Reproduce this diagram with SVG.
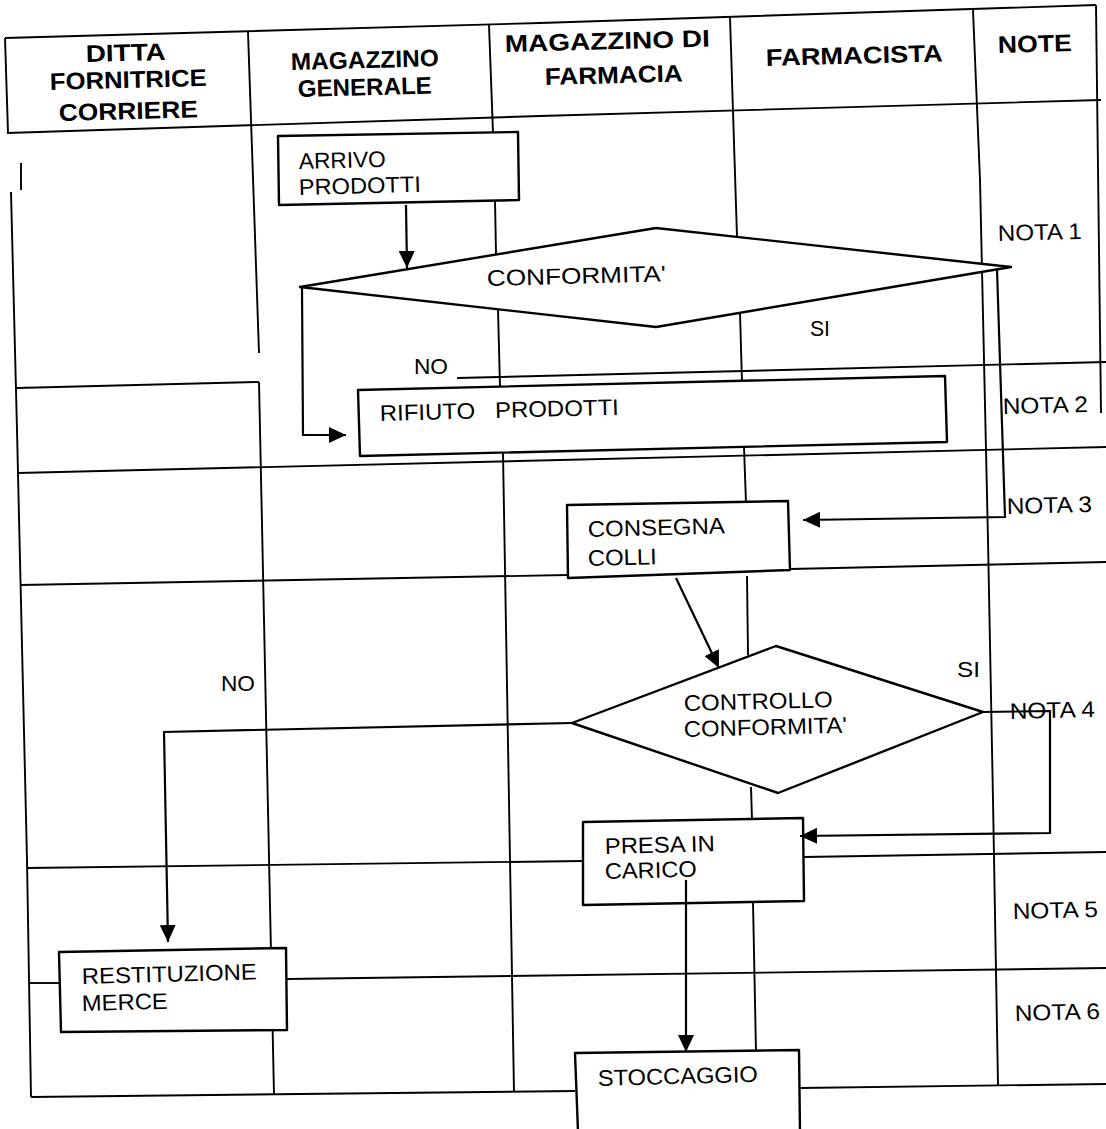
<svg xmlns="http://www.w3.org/2000/svg" width="1106" height="1129" viewBox="0 0 1106 1129">
<style>
.g{fill:none;stroke:#000;stroke-width:1.9;stroke-linejoin:round}
.b{fill:#fff;stroke:#000;stroke-width:2.4;stroke-linejoin:round}
.c{fill:none;stroke:#000;stroke-width:2.2}
.h{font-family:"Liberation Sans",Arial,sans-serif;font-weight:bold;font-size:24px;fill:#000}
.t{font-family:"Liberation Sans",Arial,sans-serif;font-size:22.5px;fill:#000}
</style>
<defs>
<marker id="ah" markerUnits="userSpaceOnUse" markerWidth="18" markerHeight="16" refX="17" refY="8" orient="auto">
<path d="M0,0 L17,8 L0,16 z" fill="#000"/>
</marker>
</defs>
<rect width="1106" height="1129" fill="#fff"/>
<g id="grid">
<polyline class="g" points="5,38 540,23 1096,5"/>
<polyline class="g" points="7,133 540,116 1101,100"/>
<line class="g" x1="5" y1="38" x2="8" y2="133"/>
<line class="g" x1="1096" y1="5" x2="1101" y2="413"/>
<line class="g" x1="21" y1="163" x2="21" y2="190"/>
<polyline class="g" points="11,192 17,430 20,560 27,860 31,1097"/>
<line class="g" x1="248" y1="32" x2="259" y2="353"/>
<line class="g" x1="259" y1="382" x2="274" y2="1095"/>
<line class="g" x1="489" y1="25" x2="493" y2="133"/>
<line class="g" x1="495" y1="200" x2="496" y2="254"/>
<line class="g" x1="498" y1="309" x2="500" y2="387"/>
<line class="g" x1="503" y1="453" x2="514" y2="1092"/>
<line class="g" x1="730" y1="17" x2="737" y2="237"/>
<line class="g" x1="740" y1="313" x2="742" y2="382"/>
<line class="g" x1="744" y1="447" x2="746" y2="503"/>
<line class="g" x1="747" y1="576" x2="748" y2="655"/>
<line class="g" x1="751" y1="787" x2="752" y2="820"/>
<line class="g" x1="753" y1="902" x2="756" y2="1052"/>
<polyline class="g" points="973,10 980,180 988,540 993,800 998,1085"/>
<line class="g" x1="17" y1="388" x2="259" y2="382"/>
<line class="g" x1="457" y1="378" x2="1106" y2="362"/>
<line class="g" x1="18" y1="473" x2="1106" y2="447"/>
<line class="g" x1="20" y1="585" x2="567" y2="575"/>
<line class="g" x1="790" y1="569" x2="1106" y2="562"/>
<line class="g" x1="27" y1="868" x2="583" y2="861"/>
<line class="g" x1="804" y1="857" x2="1106" y2="852"/>
<line class="g" x1="29" y1="983" x2="59" y2="983"/>
<line class="g" x1="287" y1="979" x2="1106" y2="968"/>
<line class="g" x1="31" y1="1097" x2="575" y2="1091"/>
<line class="g" x1="800" y1="1088" x2="1106" y2="1084"/>
</g>
<g id="header">
<text class="h" x="86" y="62" textLength="80" lengthAdjust="spacingAndGlyphs" transform="rotate(-1.5 86 62)">DITTA</text>
<text class="h" x="50" y="90" textLength="157" lengthAdjust="spacingAndGlyphs" transform="rotate(-1.5 50 90)">FORNITRICE</text>
<text class="h" x="59" y="121" textLength="139" lengthAdjust="spacingAndGlyphs" transform="rotate(-1.5 59 121)">CORRIERE</text>
<text class="h" x="291" y="70" textLength="148" lengthAdjust="spacingAndGlyphs" transform="rotate(-1.5 291 70)">MAGAZZINO</text>
<text class="h" x="298" y="97" textLength="134" lengthAdjust="spacingAndGlyphs" transform="rotate(-1.5 298 97)">GENERALE</text>
<text class="h" x="505" y="52" textLength="205" lengthAdjust="spacingAndGlyphs" transform="rotate(-1.5 505 52)">MAGAZZINO DI</text>
<text class="h" x="545" y="85" textLength="138" lengthAdjust="spacingAndGlyphs" transform="rotate(-1.5 545 85)">FARMACIA</text>
<text class="h" x="766" y="66" textLength="177" lengthAdjust="spacingAndGlyphs" transform="rotate(-1.5 766 66)">FARMACISTA</text>
<text class="h" x="998" y="53" textLength="74" lengthAdjust="spacingAndGlyphs" transform="rotate(-1.5 998 53)">NOTE</text>
</g>
<g id="arrivo">
<polygon class="b" points="278,136 518,132 519,200 279,205"/>
<text class="t" x="299" y="169" textLength="87" lengthAdjust="spacingAndGlyphs" transform="rotate(-1.5 299 169)">ARRIVO</text>
<text class="t" x="299" y="195" textLength="122" lengthAdjust="spacingAndGlyphs" transform="rotate(-1.5 299 195)">PRODOTTI</text>
</g>
<g id="conformita">
<polygon class="b" points="300,287 656,228 1011,267 656,327"/>
<text class="t" x="487" y="286" textLength="179" lengthAdjust="spacingAndGlyphs" transform="rotate(-1.5 487 286)">CONFORMITA'</text>
</g>
<g id="rifiuto">
<polygon class="b" points="358,390 945,376 947,442 360,456"/>
<text class="t" x="380" y="421" textLength="239" lengthAdjust="spacingAndGlyphs" xml:space="preserve" transform="rotate(-1.5 380 421)">RIFIUTO   PRODOTTI</text>
</g>
<g id="consegna">
<polygon class="b" points="567,505 788,501 790,570 568,578"/>
<text class="t" x="588" y="537" textLength="137" lengthAdjust="spacingAndGlyphs" transform="rotate(-1.5 588 537)">CONSEGNA</text>
<text class="t" x="588" y="566" textLength="69" lengthAdjust="spacingAndGlyphs" transform="rotate(-1.5 588 566)">COLLI</text>
</g>
<g id="controllo">
<polygon class="b" points="572,723 776,646 983,712 778,793"/>
<text class="t" x="684" y="711" textLength="149" lengthAdjust="spacingAndGlyphs" transform="rotate(-1.5 684 711)">CONTROLLO</text>
<text class="t" x="684" y="737" textLength="163" lengthAdjust="spacingAndGlyphs" transform="rotate(-1.5 684 737)">CONFORMITA'</text>
</g>
<g id="presa">
<polygon class="b" points="583,822 803,818 804,901 583,905"/>
<text class="t" x="605" y="854" textLength="110" lengthAdjust="spacingAndGlyphs" transform="rotate(-1.5 605 854)">PRESA IN</text>
<text class="t" x="605" y="879" textLength="92" lengthAdjust="spacingAndGlyphs" transform="rotate(-1.5 605 879)">CARICO</text>
</g>
<g id="restituzione">
<polygon class="b" points="59,952 286,948 287,1030 61,1032"/>
<text class="t" x="82" y="984" textLength="175" lengthAdjust="spacingAndGlyphs" transform="rotate(-1.5 82 984)">RESTITUZIONE</text>
<text class="t" x="82" y="1011" textLength="86" lengthAdjust="spacingAndGlyphs" transform="rotate(-1.5 82 1011)">MERCE</text>
</g>
<g id="stoccaggio">
<polygon class="b" points="575,1053 799,1050 800,1132 578,1132"/>
<text class="t" x="598" y="1086" textLength="160" lengthAdjust="spacingAndGlyphs" transform="rotate(-1.5 598 1086)">STOCCAGGIO</text>
</g>
<g id="connectors">
<line class="c" x1="406" y1="205" x2="407" y2="268" marker-end="url(#ah)"/>
<polyline class="c" points="302,288 303,435 346,435" marker-end="url(#ah)"/>
<polyline class="c" points="997,269 1005,517 803,520" marker-end="url(#ah)"/>
<line class="c" x1="676" y1="578" x2="719" y2="668" marker-end="url(#ah)"/>
<polyline class="c" points="983,712 1050,711 1050,833 800,836" marker-end="url(#ah)"/>
<polyline class="c" points="572,723 164,732 168,942" marker-end="url(#ah)"/>
<line class="c" x1="686" y1="880" x2="686" y2="1052" marker-end="url(#ah)"/>
</g>
<g id="labels">
<text class="t" x="998" y="241" textLength="84" lengthAdjust="spacingAndGlyphs" transform="rotate(-1.5 998 241)">NOTA 1</text>
<text class="t" x="810" y="336" textLength="20" lengthAdjust="spacingAndGlyphs">SI</text>
<text class="t" x="414" y="374" textLength="34" lengthAdjust="spacingAndGlyphs">NO</text>
<text class="t" x="1003" y="414" textLength="85" lengthAdjust="spacingAndGlyphs" transform="rotate(-1.5 1003 414)">NOTA 2</text>
<text class="t" x="1007" y="514" textLength="85" lengthAdjust="spacingAndGlyphs" transform="rotate(-1.5 1007 514)">NOTA 3</text>
<text class="t" x="221" y="691" textLength="34" lengthAdjust="spacingAndGlyphs">NO</text>
<text class="t" x="957" y="677" textLength="23" lengthAdjust="spacingAndGlyphs">SI</text>
<text class="t" x="1010" y="719" textLength="85" lengthAdjust="spacingAndGlyphs" transform="rotate(-1.5 1010 719)">NOTA 4</text>
<text class="t" x="1013" y="919" textLength="85" lengthAdjust="spacingAndGlyphs" transform="rotate(-1.5 1013 919)">NOTA 5</text>
<text class="t" x="1015" y="1021" textLength="85" lengthAdjust="spacingAndGlyphs" transform="rotate(-1.5 1015 1021)">NOTA 6</text>
</g>
</svg>
